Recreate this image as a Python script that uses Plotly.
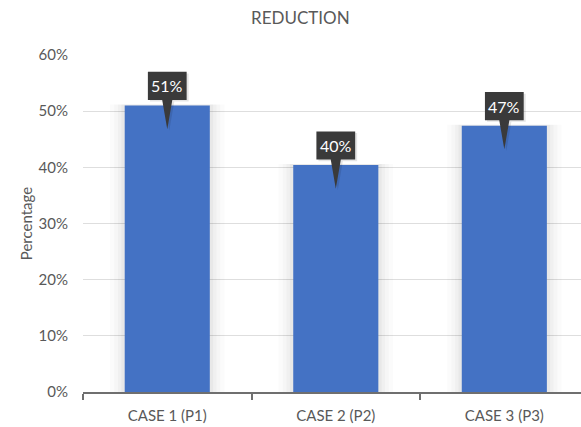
import plotly.graph_objects as go

categories = ["CASE 1 (P1)", "CASE 2 (P2)", "CASE 3 (P3)"]
reduction = [0.51, 0.404, 0.474]
y_ticks = [0, 0.1, 0.2, 0.3, 0.4, 0.5, 0.6]

FONT = "Lato, 'Open Sans', sans-serif"
TEXT = "#595959"
BAR = "#4472C4"
CALLOUT = "#3a3a3a"

xs = list(range(len(categories)))
fig = go.Figure()

# soft shadow around each bar
for w, a in [(0.68, 0.015), (0.63, 0.02), (0.585, 0.025), (0.545, 0.03)]:
    fig.add_trace(go.Bar(
        x=xs, y=[v + 0.002 for v in reduction], width=w,
        marker=dict(color=f"rgba(0,0,0,{a})", line=dict(width=0)),
        hoverinfo="skip", showlegend=False))

fig.add_trace(go.Bar(
    x=xs, y=reduction, width=0.505,
    marker=dict(color=BAR, line=dict(width=0)),
    showlegend=False))

# data callouts: box above the bar with a pointer into it
for x, v in zip(xs, reduction):
    hw = 0.115
    b0, b1 = v + 0.010, v + 0.060
    px = [x - hw, x + hw, x + hw, x + 0.03, x + 0.0, x - 0.03, x - hw, x - hw]
    py = [b1, b1, b0, b0, v - 0.042, b0, b0, b1]
    # shadow
    fig.add_trace(go.Scatter(
        x=[p + 0.012 for p in px], y=[p - 0.003 for p in py], mode="lines",
        fill="toself", fillcolor="rgba(0,0,0,0.10)", line=dict(width=0),
        hoverinfo="skip", showlegend=False))
    fig.add_trace(go.Scatter(
        x=px, y=py, mode="lines", fill="toself", fillcolor=CALLOUT,
        line=dict(width=0), hoverinfo="skip", showlegend=False))
    fig.add_annotation(
        x=x, y=(b0 + b1) / 2, text=f"{v:.0%}", showarrow=False,
        font=dict(family=FONT, size=16, color="white"))

fig.update_layout(
    width=581, height=427,
    barmode="overlay",
    plot_bgcolor="white", paper_bgcolor="white",
    margin=dict(l=83, r=0, t=55, b=35),
    title=dict(text="REDUCTION", x=0.517, xanchor="center", y=0.958, yanchor="middle",
               font=dict(family=FONT, size=17, color=TEXT)),
    font=dict(family=FONT, color=TEXT),
)

fig.update_xaxes(
    range=[-0.5, 2.455], tickvals=xs, ticktext=categories, ticks="",
    tickfont=dict(family=FONT, size=15, color=TEXT), ticklabelstandoff=9,
    showgrid=False, zeroline=False, showline=True, linecolor="#6f6f6f", linewidth=1.5,
    minor=dict(tickvals=[-0.5, 0.5, 1.5, 2.5], ticks="outside", ticklen=6,
               tickcolor="#6f6f6f", tickwidth=1.5, showgrid=False),
    fixedrange=True,
)
fig.update_yaxes(
    range=[0, 0.6], tickvals=y_ticks, tickformat=".0%",
    tickfont=dict(family=FONT, size=15, color=TEXT), ticklabelstandoff=14,
    showgrid=True, gridcolor="#dedede", gridwidth=1, zeroline=False, ticks="",
    title=dict(text="Percentage", font=dict(family=FONT, size=15, color=TEXT), standoff=2),
    fixedrange=True,
)

fig.write_html("out.html")
